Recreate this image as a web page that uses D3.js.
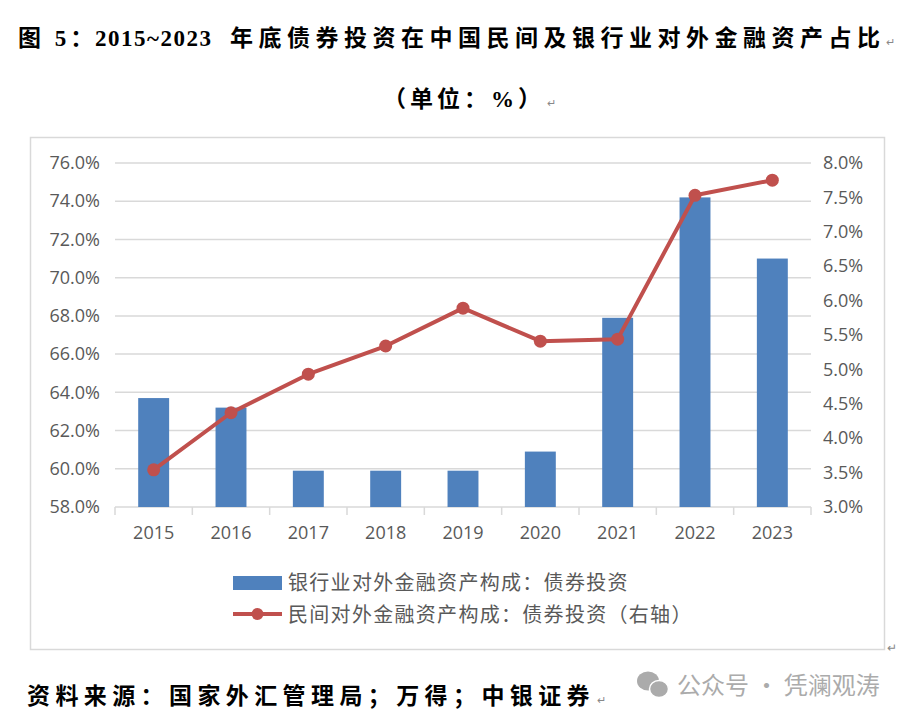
<!DOCTYPE html>
<html>
<head>
<meta charset="utf-8">
<script src="https://cdn.jsdelivr.net/npm/d3@7"></script>
<style>
  body { margin: 0; background: #fff; }
  svg { display: block; }
</style>
</head>
<body>
<svg id="chart"></svg>
<script>
// data
const years = ["2015", "2016", "2017", "2018", "2019", "2020", "2021", "2022", "2023"];
const bankBond = [63.7, 63.2, 59.9, 59.9, 59.9, 60.9, 67.9, 74.2, 71.0];      // left axis, %
const privateBond = [3.54, 4.37, 4.93, 5.34, 5.89, 5.41, 5.44, 7.53, 7.75];   // right axis, %
const leftTicks = [58, 60, 62, 64, 66, 68, 70, 72, 74, 76];
const rightTicks = [3.0, 3.5, 4.0, 4.5, 5.0, 5.5, 6.0, 6.5, 7.0, 7.5, 8.0];
const seriesNames = ["银行业对外金融资产构成：债券投资", "民间对外金融资产构成：债券投资（右轴）"];

const W = 904, H = 720;
const plot = { left: 115, right: 811, top: 163, bottom: 507 };
const barColor = "#4f81bd", lineColor = "#c0504d", gridColor = "#d9d9d9", textGray = "#595959";
const cjk = "'Noto Sans CJK SC', sans-serif";
const serif = "'Liberation Serif', 'Noto Sans CJK SC', serif";
const num = "'Open Sans', sans-serif";

const svg = d3.select("#chart").attr("width", W).attr("height", H);

// small grey paragraph mark, as in the word document the chart came from
const mark = (sel) => sel.append("tspan")
    .style("font-family", cjk).style("font-size", "11px").style("font-weight", "normal")
    .style("fill", "#888").style("letter-spacing", "0px").text("↵");

// title block
const title = svg.append("text")
    .attr("y", 46)
    .style("font-family", serif).style("font-weight", "bold")
    .style("font-size", "23px").style("fill", "#000");
title.append("tspan").attr("x", 18).style("letter-spacing", "4px").text("图 5：");
title.append("tspan").attr("x", 95).style("letter-spacing", "1.5px").text("2015~2023");
title.append("tspan").attr("x", 230).style("letter-spacing", "5.5px")
    .text("年底债券投资在中国民间及银行业对外金融资产占比");
mark(title).attr("dx", 0);

const sub = svg.append("text")
    .attr("x", 383).attr("y", 107)
    .style("font-family", serif).style("font-weight", "bold")
    .style("font-size", "23px").style("letter-spacing", "4px")
    .style("fill", "#000");
sub.append("tspan").text("（单位：%）");
mark(sub).attr("dx", 2);

// chart frame
svg.append("rect")
    .attr("x", 30.5).attr("y", 137.5).attr("width", 854).attr("height", 512)
    .style("fill", "none").style("stroke", gridColor).style("stroke-width", 1.5);
svg.append("text").attr("x", 887).attr("y", 652)
    .style("font-size", "12px").style("fill", "#888").text("↵");

// scales
const xCat = d3.scaleBand().domain(years).range([plot.left, plot.right]).padding(0);
const x = d3.scaleBand().domain(years).range([plot.left, plot.right])
    .paddingInner(0.6).paddingOuter(0.3);
const yL = d3.scaleLinear().domain([58, 76]).range([plot.bottom, plot.top]);
const yR = d3.scaleLinear().domain([3, 8]).range([plot.bottom, plot.top]);

// gridlines
svg.append("g")
    .selectAll("line")
    .data(leftTicks.slice(1)).enter()
    .append("line")
        .attr("x1", plot.left).attr("x2", plot.right)
        .attr("y1", (d) => yL(d)).attr("y2", (d) => yL(d))
        .style("stroke", gridColor).style("stroke-width", 1.5);

// left axis
const axL = svg.append("g")
    .attr("transform", `translate(${plot.left},0)`)
    .call(d3.axisLeft(yL).tickValues(leftTicks).tickFormat((d) => d.toFixed(1) + "%")
        .tickSize(0).tickPadding(15));
axL.select(".domain").remove();

// right axis
const axR = svg.append("g")
    .attr("transform", `translate(${plot.right},0)`)
    .call(d3.axisRight(yR).tickValues(rightTicks).tickFormat((d) => d.toFixed(1) + "%")
        .tickSize(0).tickPadding(12));
axR.select(".domain").remove();

// bottom axis: labels at centres, ticks at category boundaries
const axB = svg.append("g")
    .attr("transform", `translate(0,${plot.bottom})`)
    .call(d3.axisBottom(xCat).tickSize(0).tickPadding(19));
axB.select(".domain").remove();

svg.selectAll(".tick text")
    .style("font-family", num).style("font-size", "18px").style("fill", textGray);

const bounds = years.map((d) => xCat(d)).concat([plot.right]);
svg.append("g")
    .selectAll("line")
    .data(bounds).enter()
    .append("line")
        .attr("x1", (d) => d).attr("x2", (d) => d)
        .attr("y1", plot.bottom).attr("y2", plot.bottom + 8)
        .style("stroke", gridColor).style("stroke-width", 1.5);
svg.append("line")
    .attr("x1", plot.left).attr("x2", plot.right)
    .attr("y1", plot.bottom).attr("y2", plot.bottom)
    .style("stroke", gridColor).style("stroke-width", 1.5);

// bars
svg.append("g")
    .selectAll("rect")
    .data(years).enter()
    .append("rect")
        .attr("x", (d) => x(d))
        .attr("y", (d, i) => yL(bankBond[i]))
        .attr("width", x.bandwidth())
        .attr("height", (d, i) => plot.bottom - yL(bankBond[i]))
        .style("fill", barColor);

// line series on right axis
const cx = (d) => xCat(d) + xCat.bandwidth() / 2;
const line = d3.line()
    .x((d, i) => cx(years[i]))
    .y((d) => yR(d));

svg.append("path")
    .datum(privateBond)
    .attr("d", line)
    .style("fill", "none").style("stroke", lineColor)
    .style("stroke-width", 4).style("stroke-linejoin", "round");

svg.append("g")
    .selectAll("circle")
    .data(privateBond).enter()
    .append("circle")
        .attr("cx", (d, i) => cx(years[i]))
        .attr("cy", (d) => yR(d))
        .attr("r", 6.5)
        .style("fill", lineColor);

// legend
const legend = svg.append("g").attr("transform", "translate(233,0)");
legend.append("rect")
    .attr("x", 0).attr("y", 576).attr("width", 49).attr("height", 14)
    .style("fill", barColor);
legend.append("line")
    .attr("x1", 0).attr("x2", 49).attr("y1", 614).attr("y2", 614)
    .style("stroke", lineColor).style("stroke-width", 4);
legend.append("circle")
    .attr("cx", 24.5).attr("cy", 614).attr("r", 6)
    .style("fill", lineColor);
legend.selectAll("text.lg")
    .data(seriesNames).enter()
    .append("text")
        .attr("class", "lg")
        .attr("x", 55)
        .attr("y", (d, i) => 583 + i * 32)
        .attr("dy", "0.36em")
        .style("font-family", cjk).style("font-size", "20px")
        .style("letter-spacing", "1.3px").style("fill", textGray)
        .text((d) => d);

// source line
const src = svg.append("text")
    .attr("x", 27).attr("y", 704)
    .style("font-family", serif).style("font-weight", "bold")
    .style("font-size", "23px").style("letter-spacing", "5.4px")
    .style("fill", "#000");
src.append("tspan").text("资料来源：国家外汇管理局；万得；中银证券");
mark(src).attr("dx", 2);

// watermark
const wm = svg.append("g").style("fill", "#ababab");
wm.append("ellipse").attr("cx", 648).attr("cy", 681).attr("rx", 11).attr("ry", 9.5);
wm.append("ellipse").attr("cx", 659).attr("cy", 689).attr("rx", 9.5).attr("ry", 8.5)
    .style("stroke", "#fff").style("stroke-width", 1.5);
wm.append("text")
    .attr("x", 677).attr("y", 694)
    .style("font-family", cjk).style("font-size", "24px")
    .text("公众号 · 凭澜观涛");
</script>
</body>
</html>
